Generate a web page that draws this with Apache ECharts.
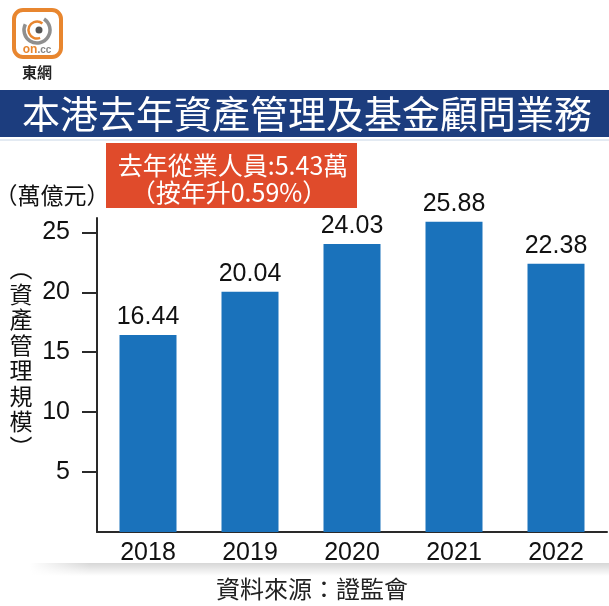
<!DOCTYPE html>
<html>
<head>
<meta charset="utf-8">
<script src="https://cdn.jsdelivr.net/npm/echarts@6/dist/echarts.min.js"></script>
<style>
html,body{margin:0;padding:0;background:#fff;}
#chart{width:609px;height:606px;}
</style>
</head>
<body>
<div id="chart"></div>
<script>
const categories = ['2018', '2019', '2020', '2021', '2022'];
const values = [16.44, 20.04, 24.03, 25.88, 22.38];
const yTickValues = [5, 10, 15, 20, 25];
const titleText = '本港去年資產管理及基金顧問業務';
const noteLine1 = '去年從業人員:5.43萬';
const noteLine2 = '（按年升0.59%）';
const unitText = '（萬億元）';
const yNameText = '︵\n資\n產\n管\n理\n規\n模\n︶';
const sourceText = '資料來源：證監會';

const FONT = '"Liberation Sans", Arial, "Noto Sans CJK TC", sans-serif';
const CJK = '"Noto Sans CJK TC", "Liberation Sans", sans-serif';

const chart = echarts.init(document.getElementById('chart'), null, {renderer: 'canvas'});
chart.setOption({
  animation: false,
  backgroundColor: '#ffffff',
  grid: {left: 97, right: 2, top: 218, bottom: 74, containLabel: false},
  xAxis: {
    type: 'category',
    data: categories,
    axisLine: {show: true, lineStyle: {color: '#2a2a2a', width: 2}},
    axisTick: {show: false},
    axisLabel: {color: '#111', fontSize: 25, fontFamily: FONT, margin: 9}
  },
  yAxis: {
    type: 'value',
    min: 0,
    max: 26.2,
    interval: 5,
    splitLine: {show: false},
    axisLine: {show: true, lineStyle: {color: '#2a2a2a', width: 2}},
    axisTick: {show: true, length: 15, lineStyle: {color: '#2a2a2a', width: 2}, customValues: yTickValues},
    axisLabel: {color: '#111', fontSize: 25, fontFamily: FONT, margin: 27, customValues: yTickValues}
  },
  series: [{
    type: 'bar',
    data: values,
    barWidth: 57,
    itemStyle: {color: '#1a72bb'},
    label: {
      show: true,
      position: 'top',
      distance: 5,
      color: '#111',
      fontSize: 25,
      fontFamily: FONT,
      formatter: p => p.value.toFixed(2)
    }
  }],
  graphic: [
    // title band
    {type: 'rect', shape: {x: 0, y: 90, width: 609, height: 47}, style: {fill: '#1c3d7e'}},
    {type: 'rect', shape: {x: 0, y: 139, width: 609, height: 2}, style: {fill: '#e3eaf2'}},
    {type: 'text', x: 307, y: 114, style: {text: titleText, fill: '#ffffff', font: '38px ' + CJK, align: 'center', verticalAlign: 'middle'}},
    // annotation box
    {type: 'rect', shape: {x: 106, y: 143, width: 251, height: 65}, style: {fill: '#e04b2b'}},
    {type: 'text', x: 233, y: 165, style: {text: noteLine1, fill: '#ffffff', font: '25px ' + CJK, align: 'center', verticalAlign: 'middle'}},
    {type: 'text', x: 229, y: 192, style: {text: noteLine2, fill: '#ffffff', font: '25px ' + CJK, align: 'center', verticalAlign: 'middle'}},
    // unit
    {type: 'text', x: 52, y: 195, style: {text: unitText, fill: '#111', font: '23px ' + CJK, align: 'center', verticalAlign: 'middle'}},
    // vertical y name
    {type: 'text', x: 21, y: 358, style: {text: yNameText, fill: '#111', font: '23px ' + CJK, lineHeight: 25.5, align: 'center', verticalAlign: 'middle'}},
    // bottom shadow strip
    {type: 'rect', shape: {x: 30, y: 563, width: 579, height: 13},
     style: {fill: new echarts.graphic.LinearGradient(0, 0, 0, 1, [
       {offset: 0, color: 'rgba(0,0,0,0.16)'}, {offset: 1, color: 'rgba(0,0,0,0)'}])}},
    {type: 'rect', shape: {x: 30, y: 563, width: 60, height: 13},
     style: {fill: new echarts.graphic.LinearGradient(0, 0, 1, 0, [
       {offset: 0, color: 'rgba(255,255,255,1)'}, {offset: 1, color: 'rgba(255,255,255,0)'}])}},
    // source
    {type: 'text', x: 312, y: 589, style: {text: sourceText, fill: '#222', font: '24px ' + CJK, align: 'center', verticalAlign: 'middle'}},
    // logo
    {type: 'rect', shape: {x: 14, y: 10, width: 47, height: 47, r: 9}, style: {fill: '#fff', stroke: '#e8862f', lineWidth: 4}},
    {type: 'arc', shape: {cx: 37, cy: 30, r: 13, startAngle: -1.0, endAngle: 3.6, clockwise: true}, style: {stroke: '#8f8f8f', lineWidth: 3.5, fill: null}},
    {type: 'arc', shape: {cx: 37, cy: 30, r: 8.5, startAngle: 1.2, endAngle: 5.4, clockwise: true}, style: {stroke: '#e8862f', lineWidth: 2.5, fill: null}},
    {type: 'circle', shape: {cx: 39, cy: 30, r: 3.5}, style: {fill: '#555'}},
    {type: 'text', x: 37, y: 50, style: {rich: {a: {fill: '#e8862f', font: 'bold 12px "Liberation Sans", sans-serif'}, b: {fill: '#888', font: 'bold 10px "Liberation Sans", sans-serif'}}, text: '{a|on}{b|.cc}', align: 'center', verticalAlign: 'middle'}},
    {type: 'text', x: 37, y: 72, style: {text: '東網', fill: '#222', font: 'bold 15px ' + CJK, align: 'center', verticalAlign: 'middle'}}
  ]
});
</script>
</body>
</html>
